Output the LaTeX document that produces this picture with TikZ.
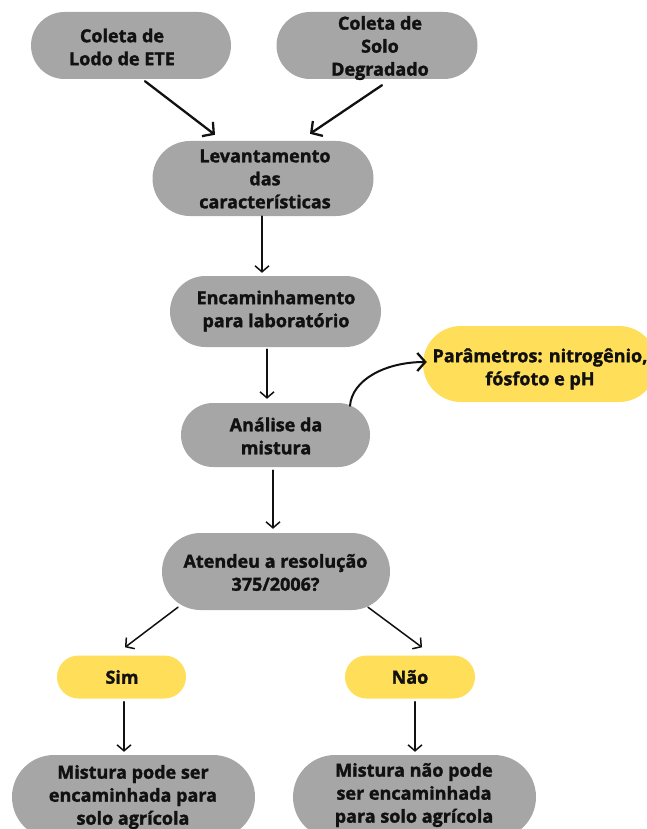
\documentclass[tikz,border=0pt]{standalone}
\usepackage{fontspec}
\setmainfont{Open Sans}[BoldFeatures={FakeBold=1.6}]
\usetikzlibrary{arrows.meta,shapes.misc}
\definecolor{boxgray}{HTML}{A6A6A6}
\definecolor{boxyellow}{HTML}{FFDE59}
\definecolor{inkblack}{HTML}{111111}
\tikzset{
  stadium/.style={shape=rounded rectangle, draw=none, inner sep=0pt},
  grayst/.style={stadium, fill=boxgray},
  yellowst/.style={stadium, fill=boxyellow},
  label/.style={align=center, inner sep=0pt, text=inkblack,
    font=\fontsize{18}{23}\selectfont\bfseries},
  thin arrow/.style={draw=inkblack, line width=1.5pt, line cap=round,
    -{Straight Barb[length=6pt,width=14pt,line width=1.5pt]}},
  thick arrow/.style={draw=inkblack, line width=2.3pt, line cap=round,
    -{Straight Barb[length=8pt,width=18pt,line width=2.3pt]}},
}
\begin{document}
\begin{tikzpicture}[x=1pt,y=1pt]
\useasboundingbox (0,0) rectangle (647,-829);
% boxes
\node[grayst, minimum width=200, minimum height=67] (A) at (131,-45.5) {};
\node[grayst, minimum width=201, minimum height=67] (B) at (377,-45.5) {};
\node[grayst, minimum width=221, minimum height=75] (C) at (263,-178.5) {};
\node[grayst, minimum width=211, minimum height=71] (D) at (275.5,-311.5) {};
\node[grayst, minimum width=189, minimum height=64] (E) at (275.5,-435) {};
\node[yellowst, minimum width=234, minimum height=76] (P) at (540,-364) {};
\node[grayst, minimum width=228, minimum height=77] (F) at (276,-571.5) {};
\node[yellowst, minimum width=129, minimum height=43] (S) at (121.5,-677) {};
\node[yellowst, minimum width=130, minimum height=43] (N) at (410,-677) {};
\node[grayst, minimum width=243, minimum height=84] (M1) at (133.5,-797) {};
\node[grayst, minimum width=243, minimum height=84] (M2) at (414.5,-797) {};
% texts
\node[label] (At) at (122,-47) {Coleta de\\Lodo de ETE};
\node[label] (Bt) at (380,-48) {Coleta de\\Solo\\Degradado};
\node[label] (Ct) at (265,-179) {Levantamento\\das\\características};
\node[label] (Dt) at (276,-311) {Encaminhamento\\para laboratório};
\node[label] (Et) at (276,-436) {Análise da\\mistura};
\node[label] (Pt) at (540,-369) {Parâmetros: nitrogênio,\\fósfoto e pH};
\node[label] (Ft) at (275.5,-572.5) {Atendeu a resolução\\375/2006?};
\node[label] (St) at (122,-677) {Sim};
\node[label] (Nt) at (410,-677) {Não};
\node[label] (M1t) at (133,-797) {Mistura pode ser\\encaminhada para\\solo agrícola};
\node[label] (M2t) at (414,-795) {Mistura não pode\\ser encaminhada\\para solo agrícola};
% connectors
\draw[thick arrow] ([shift={(14,-2)}]A.south) -- ([shift={(-48,6)}]C.north);
\draw[thick arrow] ([shift={(5,-6)}]B.south) -- ([shift={(47,7)}]C.north);
\draw[thin arrow] ([shift={(-1,0)}]C.south) -- ([shift={(-13.5,3)}]D.north);
\draw[thin arrow] ([shift={(-8.5,-2)}]D.south) -- ([shift={(-8.5,4)}]E.north);
\draw[thick arrow, line width=2pt] ([shift={(74.5,-3)}]E.north) .. controls (352,-380) and (385,-362) .. ([shift={(4,2)}]P.west);
\draw[thin arrow] ([shift={(-2.5,-3)}]E.south) -- ([shift={(-3,4)}]F.north);
\draw[thin arrow] ([shift={(-98,3)}]F.south) -- ([shift={(3.5,8)}]S.north);
\draw[thin arrow] ([shift={(92,3)}]F.south) -- ([shift={(12,8)}]N.north);
\draw[thin arrow] ([shift={(2.5,-3)}]S.south) -- ([shift={(-9.5,3)}]M1.north);
\draw[thin arrow] ([shift={(5,-3)}]N.south) -- ([shift={(0.5,3)}]M2.north);
\end{tikzpicture}
\end{document}
